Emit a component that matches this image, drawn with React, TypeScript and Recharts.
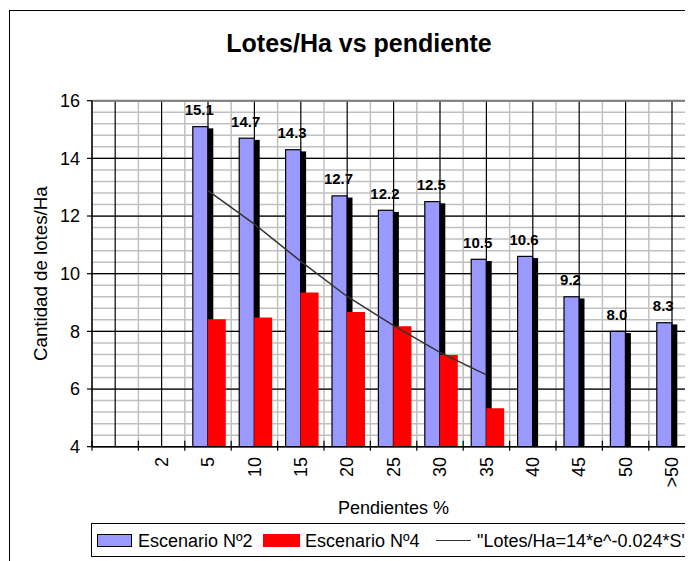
import React from 'react';
import {
  ComposedChart,
  Bar,
  Line,
  XAxis,
  YAxis,
  CartesianGrid,
  LabelList,
  ReferenceLine,
} from 'recharts';

const FONT = '"Liberation Sans", Arial, sans-serif';

// Pendiente categories (first slot is an empty category in the original sheet)
const categories = [' ', '2', '5', '10', '15', '20', '25', '30', '35', '40', '45', '50', '>50'];
const escenario2 = [null, null, 15.1, 14.7, 14.3, 12.7, 12.2, 12.5, 10.5, 10.6, 9.2, 8.0, 8.3];
const escenario4 = [null, null, 8.42, 8.48, 9.35, 8.67, 8.18, 7.18, 5.33, null, null, null, null];
// trend line
const tendencia = [null, null, 12.88, 11.72, 10.43, 9.21, 8.2, 7.27, 6.49, null, null, null, null];

const yTicks = [4, 6, 8, 10, 12, 14, 16];
const yMinorTicks = [
  4, 4.4, 4.8, 5.2, 5.6, 6, 6.4, 6.8, 7.2, 7.6, 8, 8.4, 8.8, 9.2, 9.6, 10,
  10.4, 10.8, 11.2, 11.6, 12, 12.4, 12.8, 13.2, 13.6, 14, 14.4, 14.8, 15.2, 15.6, 16,
];
const Y_DOMAIN: [number, number] = [4, 16];

const seriesNames = ['Escenario Nº2', 'Escenario Nº4', '"Lotes/Ha=14*e^-0.024*S"'];
const seriesColors = ['#9999FF', '#FF0000', '#333333'];

const data = categories.map((cat, i) => ({
  cat,
  esc2: escenario2[i],
  esc4: escenario4[i],
  trend: tendencia[i],
}));

const CHART_W = 700;
const CHART_H = 553;
const MARGIN = { top: 92.7, right: 12.8, left: 0, bottom: 0 };
const Y_AXIS_W = 84;
const X_AXIS_H = 114.3;

// plot box, used only for the grid lines
const PLOT_X = MARGIN.left + Y_AXIS_W;
const PLOT_W = CHART_W - MARGIN.right - PLOT_X;
const PLOT_Y = MARGIN.top;
const PLOT_H = CHART_H - MARGIN.bottom - X_AXIS_H - PLOT_Y;
const BAND = PLOT_W / categories.length;
const HALF_BAND = BAND / 2;

const yPix = (v: number) => PLOT_Y + ((Y_DOMAIN[1] - v) / (Y_DOMAIN[1] - Y_DOMAIN[0])) * PLOT_H;
const minorH = yMinorTicks.map(yPix);
const majorH = yTicks.map(yPix);
const minorV = categories.map((_, i) => PLOT_X + i * BAND).concat([PLOT_X + PLOT_W]);
const majorV = categories.map((_, i) => PLOT_X + i * BAND + HALF_BAND);

const BlueBar = (props: any) => {
  const { x, y, width, height } = props;
  if (height == null || height <= 0) return null;
  const w = 15;
  const bx = x + width - w;
  return (
    <g>
      <rect x={bx + 5.5} y={y + 1.7} width={w} height={height - 1.7} fill="#000" />
      <rect x={bx} y={y} width={w} height={height} fill="#9999FF" stroke="#000" strokeWidth={1.2} />
    </g>
  );
};

const BarLabel = (props: any) => {
  const vb = props.viewBox || props;
  const { value } = props;
  if (value == null) return null;
  const x = vb.x + vb.width - 8.5;
  return (
    <text x={x} y={vb.y - 11.6} textAnchor="middle" fontSize={15} fontWeight="bold" fontFamily={FONT} fill="#000">
      {Number(value).toFixed(1)}
    </text>
  );
};

const XTick = (props: any) => {
  const { x, y, payload } = props;
  const ty = y + 10.3;
  return (
    <g>
      <line x1={x - HALF_BAND} x2={x - HALF_BAND} y1={y - 6} y2={y + 4} stroke="#000" strokeWidth={1.2} />
      <text
        x={x}
        y={ty}
        transform={`rotate(-90 ${x} ${ty})`}
        textAnchor="end"
        dy="0.35em"
        fontSize={18}
        fontFamily={FONT}
        fill="#000"
      >
        {payload.value}
      </text>
    </g>
  );
};

const YLabel = (props: any) => {
  const vb = props.viewBox || {};
  const cx = 32;
  const cy = vb.y + vb.height / 2;
  return (
    <text
      x={cx}
      y={cy}
      transform={`rotate(-90 ${cx} ${cy})`}
      textAnchor="middle"
      dy="0.35em"
      fontSize={18.7}
      fontFamily={FONT}
      fill="#000"
    >
      Cantidad de lotes/Ha
    </text>
  );
};

const XLabel = (props: any) => {
  const vb = props.viewBox || {};
  return (
    <text x={vb.x + vb.width / 2} y={vb.y + 67.3} textAnchor="middle" fontSize={18} fontFamily={FONT} fill="#000">
      Pendientes %
    </text>
  );
};

const textStyle: React.CSSProperties = {
  position: 'absolute',
  fontFamily: FONT,
  fontSize: 18,
  lineHeight: 1,
  whiteSpace: 'nowrap',
  color: '#000',
};

export default function App() {
  return (
    <div
      style={{
        position: 'relative',
        width: 685,
        height: 553,
        overflow: 'hidden',
        background: '#fff',
        fontFamily: FONT,
      }}
    >
      {/* outer chart border, cut off at right and bottom like the original */}
      <div
        style={{
          position: 'absolute',
          left: 0.7,
          top: 1.7,
          width: 800,
          height: 700,
          border: '1.6px solid #000',
          boxSizing: 'border-box',
        }}
      />
      <div
        style={{
          position: 'absolute',
          left: 0,
          top: 22.5,
          width: 702,
          textAlign: 'center',
          fontSize: 25,
          fontWeight: 'bold',
          lineHeight: 1,
          whiteSpace: 'nowrap',
        }}
      >
        Lotes/Ha vs pendiente
      </div>

      <div style={{ position: 'absolute', left: 0, top: 0 }}>
        <ComposedChart width={CHART_W} height={CHART_H} data={data} margin={MARGIN} barGap={0}>
          <CartesianGrid horizontalPoints={minorH} verticalPoints={minorV} stroke="#c0c0c0" strokeWidth={1.5} />
          <CartesianGrid horizontalPoints={majorH} verticalPoints={majorV} stroke="#000" strokeWidth={1.2} />
          <XAxis
            dataKey="cat"
            height={X_AXIS_H}
            tickSize={0}
            tickMargin={0}
            tickLine={false}
            axisLine={{ stroke: '#000', strokeWidth: 1.5 }}
            tick={<XTick />}
            interval={0}
            label={XLabel}
          />
          <YAxis
            domain={Y_DOMAIN}
            ticks={yTicks}
            width={Y_AXIS_W}
            tickSize={5}
            tickMargin={7}
            tick={{ fill: '#000', fontSize: 18, fontFamily: FONT }}
            tickLine={{ stroke: '#000', strokeWidth: 1.2 }}
            axisLine={{ stroke: '#000', strokeWidth: 1.5 }}
            allowDataOverflow
            label={YLabel}
          />
          <ReferenceLine y={16} stroke="#808080" strokeWidth={2} />
          <Bar dataKey="esc2" name={seriesNames[0]} barSize={18} fill={seriesColors[0]} shape={BlueBar} isAnimationActive={false}>
            <LabelList dataKey="esc2" content={BarLabel} />
          </Bar>
          <Bar dataKey="esc4" name={seriesNames[1]} barSize={18} fill={seriesColors[1]} isAnimationActive={false} />
          <Line
            dataKey="trend"
            name={seriesNames[2]}
            stroke={seriesColors[2]}
            strokeWidth={1.5}
            dot={false}
            activeDot={false}
            isAnimationActive={false}
          />
        </ComposedChart>
      </div>

      {/* legend box */}
      <div
        style={{
          position: 'absolute',
          left: 82.7,
          top: 514.7,
          width: 800,
          height: 34.5,
          border: '1.5px solid #000',
          boxSizing: 'border-box',
          background: '#fff',
        }}
      />
      <div
        style={{
          position: 'absolute',
          left: 88.7,
          top: 526,
          width: 35.6,
          height: 12.7,
          background: seriesColors[0],
          border: '1.5px solid #000',
          boxSizing: 'border-box',
        }}
      />
      <div style={{ ...textStyle, left: 130, top: 524 }}>{seriesNames[0]}</div>
      <div
        style={{ position: 'absolute', left: 255, top: 526, width: 37, height: 12.7, background: seriesColors[1] }}
      />
      <div style={{ ...textStyle, left: 297, top: 524 }}>{seriesNames[1]}</div>
      <div
        style={{ position: 'absolute', left: 428, top: 531.5, width: 35, height: 1.5, background: seriesColors[2] }}
      />
      <div style={{ ...textStyle, left: 469, top: 524 }}>{seriesNames[2]}</div>
    </div>
  );
}
